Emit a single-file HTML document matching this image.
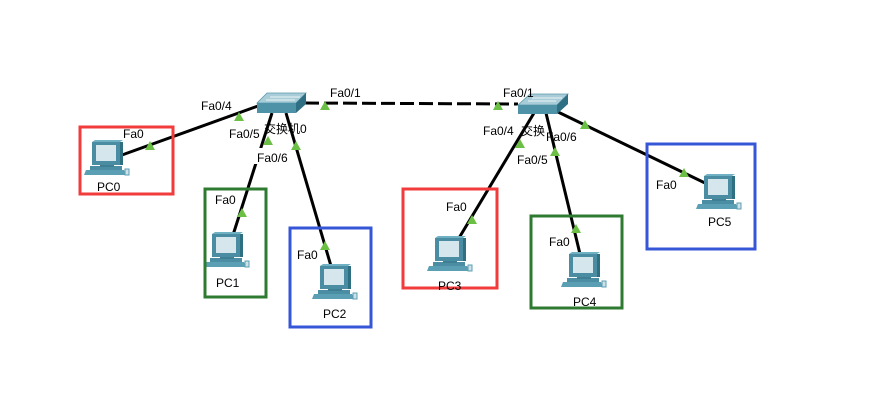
<!DOCTYPE html>
<html><head><meta charset="utf-8"><style>
html,body{margin:0;padding:0;background:#fff;width:877px;height:419px;overflow:hidden}
text{font-family:"Liberation Sans","Noto Sans CJK SC",sans-serif;font-size:12px;fill:#000}
</style></head><body>
<svg width="877" height="419" viewBox="0 0 877 419" xmlns="http://www.w3.org/2000/svg">
<defs>
<g id="pc">
<rect x="-2" y="24" width="32" height="4" fill="#4b8ea3"/>
<polygon points="-6,28 32,28 34,33 -8,33" fill="#5a9fb4"/>
<rect x="8" y="21" width="14" height="4" fill="#3f7f93"/>
<rect x="0" y="0" width="28" height="23" fill="#4a8ca1"/>
<polygon points="0,0 28,0 31,-2 3,-2" fill="#6fb0c3"/>
<rect x="28" y="0" width="3" height="23" fill="#2f6f82"/>
<rect x="4" y="3" width="20" height="16" fill="#d6e6ed"/>
<rect x="33" y="27" width="4" height="6" fill="#cfe0e6" stroke="#5a9fb4" stroke-width="1"/>
</g>
<polygon id="tri" points="-5,4 5,4 0,-5" fill="#6cbf45"/>
</defs>

<!-- links -->
<g stroke="#000" stroke-width="3" fill="none">
<line x1="122" y1="155" x2="258" y2="106"/>
<line x1="272" y1="113" x2="233" y2="235"/>
<line x1="286" y1="113" x2="331" y2="266"/>
<line x1="534" y1="113" x2="459" y2="238"/>
<line x1="546" y1="113" x2="580" y2="254"/>
<line x1="558" y1="112" x2="705" y2="183"/>
<line x1="305" y1="103" x2="518" y2="104" stroke-dasharray="14,5"/>
</g>

<!-- label backgrounds hide lines behind labels -->
<g fill="#fff">
<rect x="253" y="148" width="40" height="16"/>
<rect x="514" y="150" width="40" height="16"/>
</g>

<!-- triangles -->
<use href="#tri" x="150" y="146"/>
<use href="#tri" x="239" y="117"/>
<use href="#tri" x="268" y="141"/>
<use href="#tri" x="296" y="146"/>
<use href="#tri" x="242" y="213"/>
<use href="#tri" x="325" y="246"/>
<use href="#tri" x="325" y="106"/>
<use href="#tri" x="498" y="106"/>
<use href="#tri" x="520" y="144"/>
<use href="#tri" x="472" y="220"/>
<use href="#tri" x="555" y="152"/>
<use href="#tri" x="576" y="229"/>
<use href="#tri" x="585" y="125"/>
<use href="#tri" x="684" y="173"/>

<!-- switches -->
<g>
<polygon points="257,103 267,93 306,93 296,103" fill="#a9cdd8" stroke="#5b98ab" stroke-width="0.8"/>
<rect x="257" y="103" width="39" height="10" fill="#4d92a7"/>
<polygon points="296,103 306,93 306,104 296,113" fill="#2e6f83"/>
<line x1="270" y1="97" x2="300" y2="97" stroke="#fff" stroke-width="0.8"/>
<line x1="266" y1="100" x2="295" y2="100" stroke="#fff" stroke-width="0.8"/>
</g>
<g>
<polygon points="518,105 530,94 568,94 557,105" fill="#a9cdd8" stroke="#5b98ab" stroke-width="0.8"/>
<rect x="518" y="105" width="39" height="9" fill="#4d92a7"/>
<polygon points="557,105 568,94 568,104 557,114" fill="#2e6f83"/>
<line x1="532" y1="98" x2="562" y2="98" stroke="#fff" stroke-width="0.8"/>
<line x1="528" y1="101" x2="556" y2="101" stroke="#fff" stroke-width="0.8"/>
</g>

<!-- PCs -->
<use href="#pc" x="92" y="142"/>
<use href="#pc" x="212" y="234"/>
<use href="#pc" x="320" y="266"/>
<use href="#pc" x="435" y="238"/>
<use href="#pc" x="569" y="254"/>
<use href="#pc" x="704" y="176"/>

<!-- boxes -->
<g fill="none" stroke-width="3">
<rect x="80" y="127" width="93" height="67" stroke="#f23b3b"/>
<rect x="205" y="189" width="61" height="108" stroke="#2f7a31"/>
<rect x="290" y="228" width="81" height="99" stroke="#3556d6"/>
<rect x="403" y="189" width="94" height="99" stroke="#f23b3b"/>
<rect x="531" y="216" width="91" height="92" stroke="#2f7a31"/>
<rect x="647" y="144" width="108" height="105" stroke="#3556d6"/>
</g>

<!-- labels -->
<text x="201" y="110">Fa0/4</text>
<text x="229" y="138">Fa0/5</text>
<text x="264" y="133">交换机0</text>
<text x="257" y="162">Fa0/6</text>
<text x="330" y="97">Fa0/1</text>
<text x="123" y="138">Fa0</text>
<text x="215" y="204">Fa0</text>
<text x="297" y="259">Fa0</text>
<text x="97" y="191">PC0</text>
<text x="216" y="287">PC1</text>
<text x="323" y="318">PC2</text>

<text x="503" y="97">Fa0/1</text>
<text x="483" y="135">Fa0/4</text>
<text x="521" y="135">交换</text>
<text x="546" y="141">Fa0/6</text>
<text x="517" y="164">Fa0/5</text>
<text x="446" y="211">Fa0</text>
<text x="549" y="246">Fa0</text>
<text x="656" y="189">Fa0</text>
<text x="438" y="290">PC3</text>
<text x="573" y="306">PC4</text>
<text x="708" y="226">PC5</text>
</svg>
</body></html>
